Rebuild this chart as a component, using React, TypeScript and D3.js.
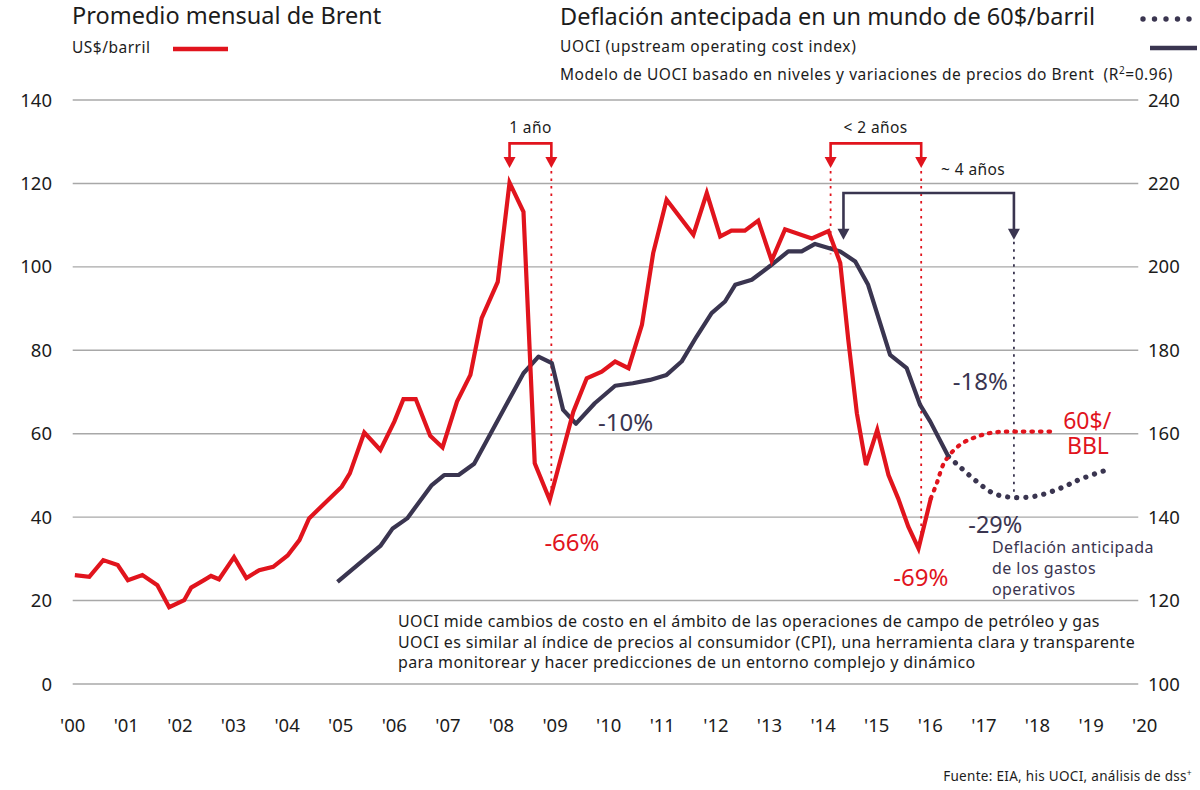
import * as d3 from 'd3';
import { useEffect, useRef } from 'react';

// Brent quarterly-ish average, US$/barril (left axis)
const brentYears = [
  2000.04, 2000.31, 2000.57, 2000.84, 2001.03, 2001.3, 2001.58, 2001.8, 2002.08, 2002.21,
  2002.45, 2002.58, 2002.73, 2003.01, 2003.24, 2003.48, 2003.74, 2004.01, 2004.23, 2004.41,
  2005.02, 2005.17, 2005.44, 2005.74, 2006.0, 2006.17, 2006.4, 2006.67, 2006.9, 2007.17,
  2007.42, 2007.63, 2007.93, 2008.15, 2008.41, 2008.62, 2008.9, 2009.34, 2009.59, 2009.87,
  2010.12, 2010.37, 2010.62, 2010.83, 2011.08, 2011.58, 2011.83, 2012.08, 2012.29, 2012.54,
  2012.79, 2013.04, 2013.29, 2013.79, 2014.1, 2014.32, 2014.47, 2014.63, 2014.8, 2015.01,
  2015.22, 2015.4, 2015.59, 2015.78, 2016.01
];
const brentValues = [
  26.1, 25.7, 29.7, 28.5, 24.9, 26.1, 23.7, 18.4, 20.1, 23.1,
  24.9, 25.9, 25.1, 30.4, 25.4, 27.3, 28.1, 30.8, 34.5, 39.7,
  47.3, 50.5, 60.3, 56.1, 62.9, 68.3, 68.3, 59.5, 56.7, 67.7,
  74.1, 87.7, 96.4, 120.2, 113.2, 52.9, 44.1, 65.3, 73.3, 74.9,
  77.3, 75.7, 86.1, 103.3, 116.1, 107.7, 117.7, 107.3, 108.7, 108.7,
  111.1, 101.5, 109.0, 106.8, 108.6, 100.9, 82.5, 64.9, 52.5, 60.9,
  50.1, 44.5, 37.7, 32.5, 44.5
];

// Brent scenario at 60$/bbl (dotted)
const brentForecastYears = [2016.01, 2016.12, 2016.27, 2016.55, 2016.87, 2017.18, 2017.6, 2018.3];
const brentForecastValues = [44.5, 48.1, 53.3, 57.3, 59.3, 60.3, 60.5, 60.5];

// UOCI index (right axis)
const uociYears = [
  2004.94, 2005.74, 2005.97, 2006.24, 2006.7, 2006.93, 2007.2, 2007.49, 2008.41, 2008.69,
  2008.94, 2009.15, 2009.39, 2009.74, 2010.12, 2010.45, 2010.77, 2011.08, 2011.36, 2011.64,
  2011.92, 2012.17, 2012.36, 2012.67, 2013.01, 2013.35, 2013.6, 2013.85, 2014.32, 2014.6,
  2014.84, 2015.25, 2015.56, 2015.81, 2016.0, 2016.34
];
const uociValues = [
  124.5, 133.1, 137.3, 139.7, 147.7, 150.1, 150.1, 152.8, 174.5, 178.5,
  176.9, 165.7, 162.4, 167.3, 171.5, 172.1, 172.9, 174.1, 177.3, 183.3,
  188.9, 191.7, 195.7, 196.9, 200.2, 203.7, 203.7, 205.5, 203.7, 201.3,
  195.7, 178.9, 175.7, 166.9, 162.9, 154.5
];

// UOCI anticipated deflation (dotted)
const uociForecastYears = [2016.34, 2016.55, 2016.87, 2017.18, 2017.55, 2017.99, 2018.42, 2018.8, 2019.38];
const uociForecastValues = [154.5, 152.1, 148.5, 145.7, 144.7, 145.1, 146.9, 149.1, 151.7];

const leftTicks = [0, 20, 40, 60, 80, 100, 120, 140];
const rightTicks = [100, 120, 140, 160, 180, 200, 220, 240];
const yearTicks = d3.range(2000, 2021);

const noteLines = [
  'UOCI mide cambios de costo en el ámbito de las operaciones de campo de petróleo y gas',
  'UOCI es similar al índice de precios al consumidor (CPI), una herramienta clara y transparente',
  'para monitorear y hacer predicciones de un entorno complejo y dinámico'
];
const deflationLines = ['Deflación anticipada', 'de los gastos', 'operativos'];

const RED = '#e1141d';
const NAVY = '#3a3550';
const INK = '#1c1c1c';
const FONT = '"Noto Sans", "Open Sans", sans-serif';

export default function App() {
  const ref = useRef<any>();

  useEffect(() => {
    const svg = d3.select(ref.current);
    svg.selectAll('*').remove();
    svg.attr('width', 1200).attr('height', 790).style('font-family', FONT);

    const x = d3.scaleLinear().domain([2000, 2020]).range([72.7, 1144.7]);
    const y = d3.scaleLinear().domain([0, 140]).range([684, 100]);
    const yR = d3.scaleLinear().domain([100, 240]).range([684, 100]);

    // grid
    svg.append('g').selectAll('line').data(leftTicks).join('line')
      .attr('x1', x(2000)).attr('x2', x(2019.88))
      .attr('y1', (d: any) => y(d)).attr('y2', (d: any) => y(d))
      .attr('stroke', '#a8a8a8').attr('stroke-width', 1.4);

    svg.append('g').selectAll('text').data(leftTicks).join('text')
      .attr('x', 52).attr('y', (d: any) => y(d) + 6.5)
      .attr('text-anchor', 'end').attr('font-size', 18.5).attr('fill', INK)
      .text((d: any) => d);

    svg.append('g').selectAll('text').data(rightTicks).join('text')
      .attr('x', 1148).attr('y', (d: any) => yR(d) + 6.5)
      .attr('font-size', 18.5).attr('fill', INK)
      .text((d: any) => d);

    svg.append('g').selectAll('text').data(yearTicks).join('text')
      .attr('x', (d: any) => x(d)).attr('y', 732)
      .attr('text-anchor', 'middle').attr('font-size', 18.5).attr('fill', INK)
      .text((d: any) => "'" + String(d).slice(2));

    // titles & legend
    svg.append('text').attr('x', 72).attr('y', 24).attr('font-size', 23.5).attr('fill', INK)
      .text('Promedio mensual de Brent');
    svg.append('text').attr('x', 72).attr('y', 53).attr('font-size', 15.5)
      .attr('letter-spacing', 0.5).attr('fill', INK)
      .text('US$/barril');
    svg.append('line').attr('x1', 173).attr('x2', 228).attr('y1', 49).attr('y2', 49)
      .attr('stroke', RED).attr('stroke-width', 4.5);

    svg.append('text').attr('x', 560).attr('y', 25).attr('font-size', 23.5).attr('fill', INK)
      .text('Deflación antecipada en un mundo de 60$/barril');
    svg.append('g').selectAll('circle').data(d3.range(5)).join('circle')
      .attr('cx', (d: any) => 1143 + d * 11.5).attr('cy', 19).attr('r', 2.7).attr('fill', NAVY);
    svg.append('text').attr('x', 560).attr('y', 52).attr('font-size', 15.5)
      .attr('letter-spacing', 0.6).attr('fill', INK)
      .text('UOCI (upstream operating cost index)');
    svg.append('line').attr('x1', 1150).attr('x2', 1197).attr('y1', 48).attr('y2', 48)
      .attr('stroke', NAVY).attr('stroke-width', 4.5);
    const model = svg.append('text').attr('x', 560).attr('y', 80).attr('font-size', 15.5)
      .attr('letter-spacing', 0.55).attr('fill', INK);
    model.append('tspan').text('Modelo de UOCI basado en niveles y variaciones de precios do Brent\u00a0 (R');
    model.append('tspan').attr('font-size', 10).attr('dy', -6).text('2');
    model.append('tspan').attr('dy', 6).text('=0.96)');

    // annotation brackets
    const bracket = (t1: number, t2: number, top: number, tip: number, color: string) => {
      const g = svg.append('g');
      g.append('path')
        .attr('d', `M${x(t1)},${y(tip) - 9} V${y(top)} H${x(t2)} V${y(tip) - 9}`)
        .attr('fill', 'none').attr('stroke', color).attr('stroke-width', 2.6);
      [t1, t2].forEach((t) => {
        g.append('path')
          .attr('d', `M${x(t) - 6},${y(tip) - 11} L${x(t) + 6},${y(tip) - 11} L${x(t)},${y(tip)} Z`)
          .attr('fill', color);
      });
    };
    const vdots = (t: number, v1: number, v2: number, color: string) => {
      svg.append('line').attr('x1', x(t)).attr('x2', x(t)).attr('y1', y(v1)).attr('y2', y(v2))
        .attr('stroke', color).attr('stroke-width', 1.8).attr('stroke-dasharray', '2.5 5');
    };

    vdots(2008.93, 123, 45, RED);
    vdots(2014.14, 123, 103, RED);
    vdots(2015.83, 123, 36, RED);
    vdots(2017.56, 106, 45.5, NAVY);

    bracket(2008.15, 2008.93, 129.6, 123.7, RED);
    bracket(2014.14, 2015.83, 129.6, 123.7, RED);
    bracket(2014.38, 2017.56, 117.7, 106.5, NAVY);

    const label = (tx: number, ty: number, txt: string, size: number, color: string, anchor = 'start', ls = 0) =>
      svg.append('text').attr('x', tx).attr('y', ty).attr('font-size', size)
        .attr('letter-spacing', ls)
        .attr('fill', color).attr('text-anchor', anchor).text(txt);

    label(x(2008.54), y(132.1), '1 año', 15.5, INK, 'middle', 0.4);
    label(x(2014.98), y(132.1), '< 2 años', 15.5, INK, 'middle', 0.4);
    label(x(2016.2), y(122.0), '~ 4 años', 15.5, INK, 'start', 0.4);

    // series
    const line = d3.line<any>().x((d: any) => x(d[0]));

    svg.append('path')
      .attr('d', line.y((d: any) => yR(d[1])).curve(d3.curveCatmullRom)(d3.zip(uociForecastYears, uociForecastValues)))
      .attr('fill', 'none').attr('stroke', NAVY).attr('stroke-width', 5.2)
      .attr('stroke-linecap', 'round').attr('stroke-dasharray', '0.1 9');

    svg.append('path')
      .attr('d', line.y((d: any) => y(d[1])).curve(d3.curveCatmullRom)(d3.zip(brentForecastYears, brentForecastValues)))
      .attr('fill', 'none').attr('stroke', RED).attr('stroke-width', 4.2)
      .attr('stroke-linecap', 'round').attr('stroke-dasharray', '1.5 7');

    svg.append('path')
      .attr('d', line.y((d: any) => yR(d[1])).curve(d3.curveLinear)(d3.zip(uociYears, uociValues)))
      .attr('fill', 'none').attr('stroke', NAVY).attr('stroke-width', 4.2)
      .attr('stroke-linejoin', 'round');

    svg.append('path')
      .attr('d', line.y((d: any) => y(d[1])).curve(d3.curveLinear)(d3.zip(brentYears, brentValues)))
      .attr('fill', 'none').attr('stroke', RED).attr('stroke-width', 4.2)
      .attr('stroke-linejoin', 'miter');

    // value labels
    label(x(2009.8), y(60.6), '-10%', 24, NAVY);
    label(x(2008.8), y(32), '-66%', 24, RED);
    label(x(2016.42), y(70.5), '-18%', 24, NAVY);
    label(x(2016.71), y(36.3), '-29%', 23.5, NAVY);
    label(x(2015.31), y(23.6), '-69%', 24, RED);
    label(x(2018.48), y(61.2), '60$/', 23, RED);
    label(x(2018.55), y(55.2), 'BBL', 23, RED);

    svg.append('g').selectAll('text').data(deflationLines).join('text')
      .attr('x', x(2017.15)).attr('y', (d: any, i: number) => 553 + i * 21)
      .attr('font-size', 16).attr('letter-spacing', 0.45).attr('fill', NAVY).text((d: any) => d);

    svg.append('g').selectAll('text').data(noteLines).join('text')
      .attr('x', 398).attr('y', (d: any, i: number) => 627 + i * 20.5)
      .attr('font-size', 16).attr('letter-spacing', 0.37).attr('fill', INK).text((d: any) => d);

    const src = svg.append('text').attr('x', 1192).attr('y', 781).attr('font-size', 13.5)
      .attr('letter-spacing', 0.3).attr('text-anchor', 'end').attr('fill', INK);
    src.append('tspan').text('Fuente: EIA, his UOCI, análisis de dss');
    src.append('tspan').attr('font-size', 8.5).attr('dy', -5).text('+');
  }, []);

  return (
    <div style={{ position: 'absolute', left: 0, top: 0, width: 1200, height: 790, background: '#fff' }}>
      <svg ref={ref}></svg>
    </div>
  );
}
